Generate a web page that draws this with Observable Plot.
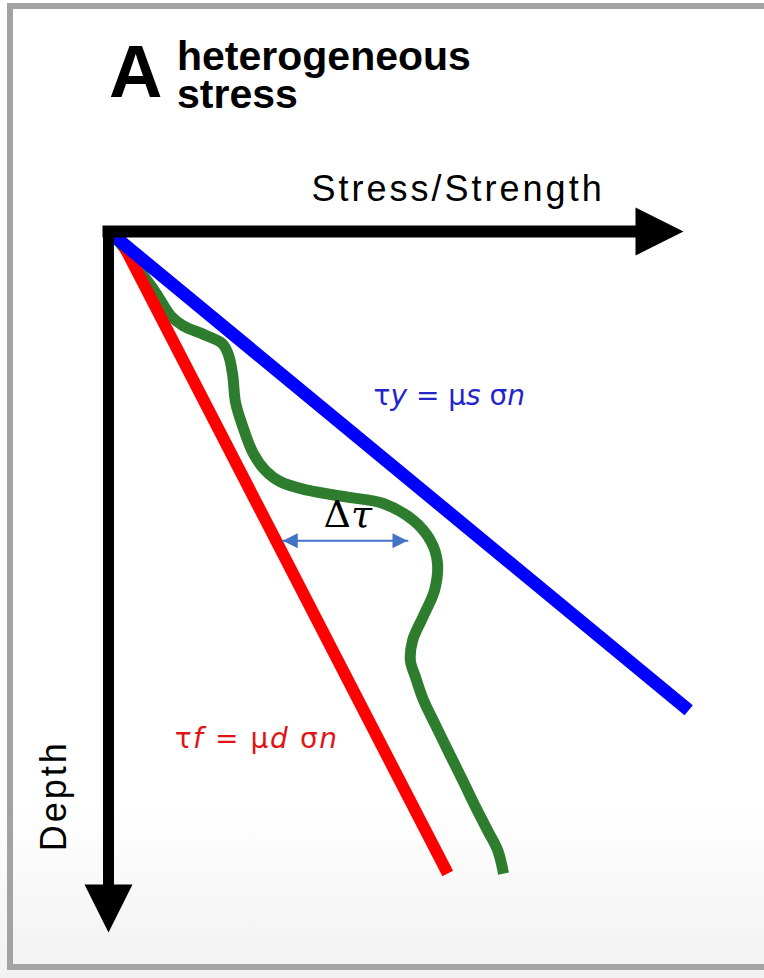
<!DOCTYPE html>
<html>
<head>
<meta charset="utf-8">
<script src="https://cdn.jsdelivr.net/npm/d3@7"></script>
<script src="https://cdn.jsdelivr.net/npm/@observablehq/plot@0.6"></script>
<style>
  body { margin: 0; background: #fff; }
  #page { position: relative; width: 764px; height: 978px; overflow: hidden;
          background: linear-gradient(#fff 0%, #fff 82%, #f1f1f1 100%);
          font-family: "Liberation Sans", Arial, sans-serif; color: #000; }
  #frame { position: absolute; left: 7px; top: 3px; width: 800px; height: 967px; box-sizing: border-box;
           border: 6px solid #a3a3a3; border-right: none; pointer-events: none; z-index: 3; }
  #header { position: relative; height: 130px; }
  #letter { position: absolute; left: 109px; top: 35px; font-size: 74px; line-height: 74px; font-weight: bold; }
  #title { position: absolute; left: 177px; top: 37px; font-size: 41px; line-height: 38px; font-weight: bold; }
  #chart svg { display: block; }
  #chart text { white-space: pre; }
</style>
</head>
<body>
<div id="page">
  <div id="frame"></div>
  <div id="header">
    <div id="letter">A</div>
    <div id="title">heterogeneous<br>stress</div>
  </div>
  <div id="chart"></div>
</div>
<script>
// ---- data (stress along x, depth along y, arbitrary units) ----
const axisStress = [0, 9.5];          // horizontal axis shaft (at depth 0)
const axisDepth = [0, 9.5];           // vertical axis shaft (at stress 0)
const arrowTipX = [10, 0];            // arrowhead tips
const arrowTipY = [0, 10];
const arrowTipAngle = [0, 90];

const yieldX = [0, 10.09];            // τy = μs σn  (static strength)
const yieldY = [0, 6.83];
const frictionX = [0.14, 5.90];       // τf = μd σn  (dynamic strength)
const frictionY = [0, 9.16];

// heterogeneous stress profile
const stressX = [0.03, 0.30, 0.52, 0.82, 1.08, 1.29, 1.69, 1.98, 2.09, 2.16, 2.21, 2.33, 2.52, 2.73, 2.99, 3.46,
                 4.16, 4.78, 5.30, 5.60, 5.72, 5.67, 5.48, 5.29, 5.25, 5.34, 5.48, 5.71, 5.93, 6.16, 6.39, 6.59, 6.77, 6.87];
const stressY = [0.00, 0.27, 0.53, 0.87, 1.20, 1.34, 1.48, 1.60, 1.77, 2.05, 2.44, 2.77, 3.17, 3.41, 3.57, 3.69,
                 3.79, 3.88, 4.12, 4.41, 4.72, 5.12, 5.48, 5.83, 6.12, 6.36, 6.69, 7.08, 7.45, 7.83, 8.22, 8.54, 8.83, 9.16];

const deltaX = [3.03, 5.20];          // Δτ double arrow
const deltaDepth = 4.41;
const deltaAngle = [180, 0];

const labelText = ["τy = μs σn", "τf = μd σn", "Δτ"];
const labelX = [4.61, 1.15, 4.16];
const labelY = [2.48, 7.375, 4.22];
const labelSpacing = {"τy = μs σn": "0px", "τf = μd σn": "1.6px"};
const labelParts = {
  "τy = μs σn": [["τ", 0], ["y", 1], [" = μ", 0], ["s", 1], [" σ", 0], ["n", 1]],
  "τf = μd σn": [["τ", 0], ["f", 1], [" = μ", 0], ["d", 1], [" σ", 0], ["n", 1]],
  "Δτ": [["Δ", 0], ["τ", 1]]
};
const axisTitles = ["Stress/Strength", "Depth"];
const axisTitleX = [6.08, -0.74];
const axisTitleY = [-0.442, 8.05];

// ---- build ----
const pts = (xs, ys) => xs.map((x, i) => ({x, y: ys[i]}));
const tip = {
  draw(ctx, size) {
    const r = Math.sqrt(size / Math.PI);
    ctx.moveTo(0, 0); ctx.lineTo(-2 * r, -r); ctx.lineTo(-2 * r, r); ctx.closePath();
  }
};

const plot = Plot.plot({
  width: 764, height: 848,
  marginLeft: 108, marginRight: 81, marginTop: 101, marginBottom: 46,
  x: {domain: [0, 10], axis: null},
  y: {domain: [0, 10], reverse: true, axis: null},
  style: {background: "transparent", overflow: "visible"},
  marks: [
    Plot.line(pts(stressX, stressY), {x: "x", y: "y", stroke: "#2e7d2e", strokeWidth: 11, curve: "catmull-rom", strokeLinecap: "butt", strokeLinejoin: "round"}),
    Plot.line(pts(frictionX, frictionY), {x: "x", y: "y", stroke: "#ff0000", strokeWidth: 12, strokeLinecap: "butt"}),
    Plot.line(pts(yieldX, yieldY), {x: "x", y: "y", stroke: "#0000ff", strokeWidth: 13, strokeLinecap: "butt"}),
    Plot.line(axisStress.map(x => ({x, y: 0})), {x: "x", y: "y", stroke: "#000", strokeWidth: 12, strokeLinecap: "square"}),
    Plot.line(axisDepth.map(y => ({x: 0, y})), {x: "x", y: "y", stroke: "#000", strokeWidth: 11, strokeLinecap: "square"}),
    Plot.dot(arrowTipX.map((x, i) => ({x, y: arrowTipY[i], a: arrowTipAngle[i]})),
      {x: "x", y: "y", r: 24, symbol: tip, fill: "#000", stroke: null, rotate: "a"}),
    Plot.line(deltaX.map(x => ({x, y: deltaDepth})), {x: "x", y: "y", stroke: "#4472c4", strokeWidth: 2}),
    Plot.dot(deltaX.map((x, i) => ({x, y: deltaDepth, a: deltaAngle[i]})),
      {x: "x", y: "y", r: 7.5, symbol: tip, fill: "#4472c4", stroke: null, rotate: "a"}),
    Plot.text([labelText[0]], {x: () => labelX[0], y: () => labelY[0], text: d => d, fill: "#2424cc",
      fontFamily: "DejaVu Sans", fontSize: 28, textAnchor: "start", lineAnchor: "bottom"}),
    Plot.text([labelText[1]], {x: () => labelX[1], y: () => labelY[1], text: d => d, fill: "#e01414",
      fontFamily: "DejaVu Sans", fontSize: 28, textAnchor: "start", lineAnchor: "bottom"}),
    Plot.text([labelText[2]], {x: () => labelX[2], y: () => labelY[2], text: d => d, fill: "#000",
      fontFamily: "DejaVu Serif", fontSize: 38, textAnchor: "middle", lineAnchor: "bottom"}),
    Plot.text([axisTitles[0]], {x: () => axisTitleX[0], y: () => axisTitleY[0], text: d => d, fill: "#000",
      fontFamily: "Liberation Sans", fontSize: 36, textAnchor: "middle", lineAnchor: "bottom"}),
    Plot.text([axisTitles[1]], {x: () => axisTitleX[1], y: () => axisTitleY[1], text: d => d, fill: "#000",
      fontFamily: "Liberation Sans", fontSize: 36, textAnchor: "middle", lineAnchor: "bottom", rotate: -90})
  ]
});

// italic letters inside formula labels, spacing of axis titles
d3.select(plot).selectAll("text").each(function () {
  const t = this.textContent;
  const sel = d3.select(this);
  if (labelParts[t]) {
    if (labelSpacing[t]) sel.attr("letter-spacing", labelSpacing[t]);
    sel.text("");
    labelParts[t].forEach(([s, it]) => sel.append("tspan").text(s).attr("font-style", it ? "italic" : null));
  } else if (axisTitles.includes(t)) {
    sel.attr("letter-spacing", "3px");
  }
});

document.getElementById("chart").appendChild(plot);
</script>
</body>
</html>
